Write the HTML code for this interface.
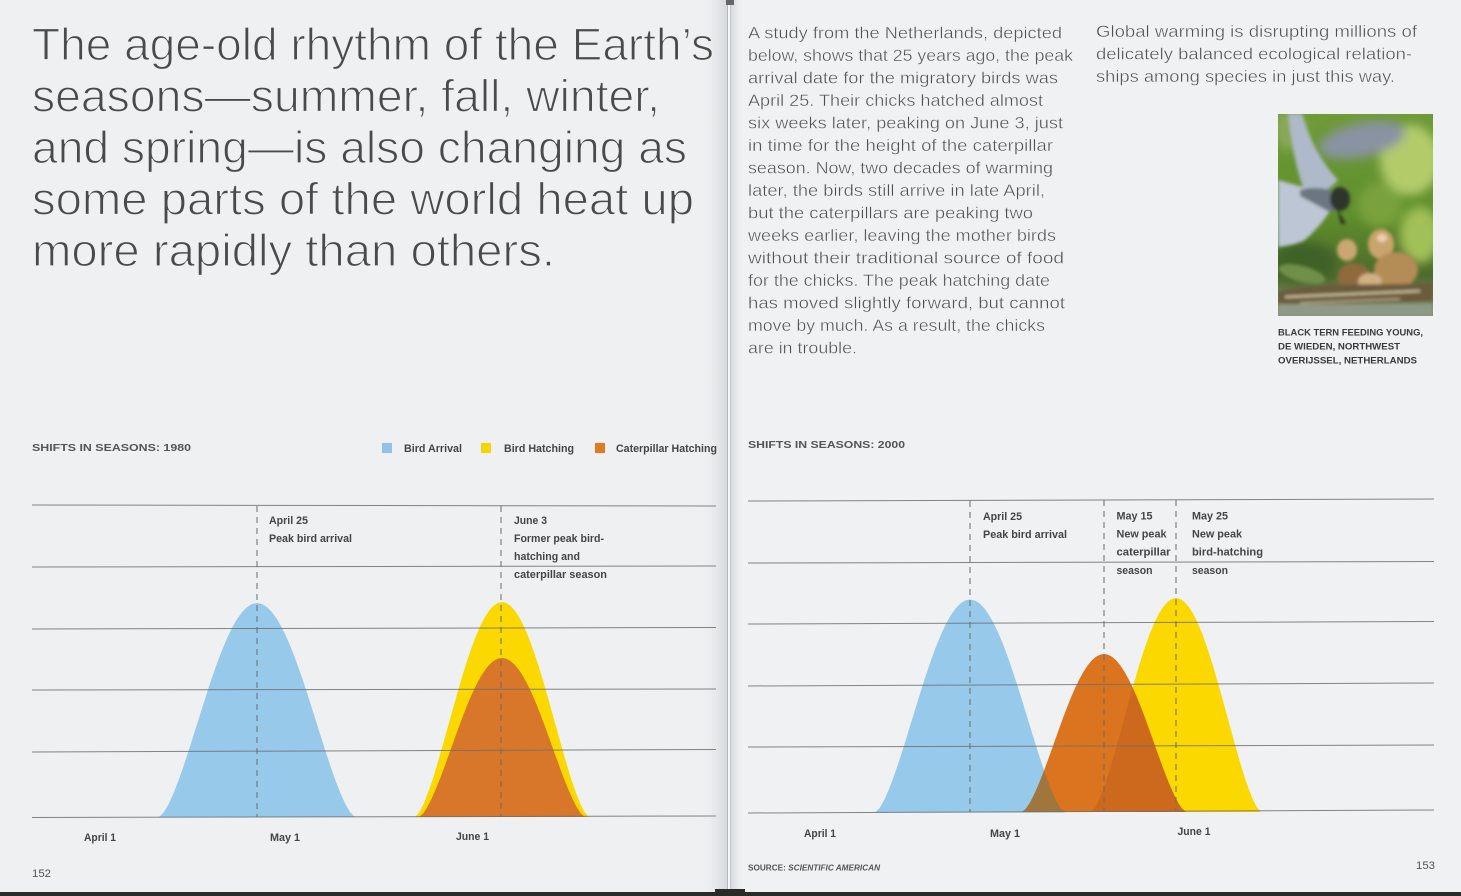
<!DOCTYPE html>
<html>
<head>
<meta charset="utf-8">
<style>
  html,body{margin:0;padding:0;background:#eef0f1;}
  body{width:1461px;height:896px;overflow:hidden;}
  svg{display:block;}
  .hl{font-family:"Liberation Sans",sans-serif;font-size:45px;fill:#4a4a4a;stroke:#eef0f1;stroke-width:1.2px;}
  .p{font-family:"Liberation Sans",sans-serif;font-size:17px;fill:#4f4f4f;stroke:#eff1f2;stroke-width:0.4px;}
  .lab{font-family:"Liberation Sans Narrow","Liberation Sans",sans-serif;font-weight:bold;font-size:11px;fill:#454545;}
  .hd{font-family:"Liberation Sans",sans-serif;font-weight:bold;font-size:10.5px;fill:#555;}
  .cap{font-family:"Liberation Sans",sans-serif;font-weight:bold;font-size:9px;fill:#3a3a3a;}
  .pg{font-family:"Liberation Sans Narrow","Liberation Sans",sans-serif;font-size:11px;fill:#555;}
</style>
</head>
<body>
<svg width="1461" height="896" viewBox="0 0 1461 896" xmlns="http://www.w3.org/2000/svg">
  <defs>
    <linearGradient id="gL" x1="0" x2="1" y1="0" y2="0">
      <stop offset="0" stop-color="#eef0f1" stop-opacity="0"/>
      <stop offset="1" stop-color="#d3d8da"/>
    </linearGradient>
    <linearGradient id="gR" x1="0" x2="1" y1="0" y2="0">
      <stop offset="0" stop-color="#d6dadc"/>
      <stop offset="1" stop-color="#eff1f2" stop-opacity="0"/>
    </linearGradient>
    <linearGradient id="phBase" x1="0" x2="0" y1="0" y2="1">
      <stop offset="0" stop-color="#6f9a38"/>
      <stop offset="0.5" stop-color="#5f8f2c"/>
      <stop offset="0.8" stop-color="#4e6a2c"/>
      <stop offset="1" stop-color="#8a8f70"/>
    </linearGradient>
    <filter id="blur3" x="-30%" y="-30%" width="160%" height="160%"><feGaussianBlur stdDeviation="5"/></filter>
    <filter id="blur1" x="-20%" y="-20%" width="140%" height="140%"><feGaussianBlur stdDeviation="1.6"/></filter>
    <clipPath id="phClip"><rect x="1278" y="114" width="155" height="202"/></clipPath>
    <clipPath id="orClip">
      <path transform="translate(1104,812) scale(82,-158)" d="M-1,0 L-0.95,0.022 -0.9,0.0619 -0.85,0.1128 -0.8,0.1718 -0.75,0.2367 -0.7,0.3059 -0.65,0.3777 -0.6,0.4506 -0.55,0.5234 -0.5,0.5946 -0.45,0.6631 -0.4,0.7277 -0.35,0.7873 -0.3,0.841 -0.25,0.888 -0.2,0.9275 -0.15,0.9588 -0.1,0.9816 -0.05,0.9954 0,1 0.05,0.9954 0.1,0.9816 0.15,0.9588 0.2,0.9275 0.25,0.888 0.3,0.841 0.35,0.7873 0.4,0.7277 0.45,0.6631 0.5,0.5946 0.55,0.5234 0.6,0.4506 0.65,0.3777 0.7,0.3059 0.75,0.2367 0.8,0.1718 0.85,0.1128 0.9,0.0619 0.95,0.022 1,0 Z"/>
    </clipPath>
  </defs>

  <!-- page backgrounds -->
  <rect x="0" y="0" width="729" height="896" fill="#eef0f1"/>
  <rect x="729" y="0" width="732" height="896" fill="#eff1f2"/>
  <!-- gutter -->
  <rect x="700" y="0" width="28" height="896" fill="url(#gL)"/>
  <rect x="727" y="0" width="1" height="896" fill="#b4b9bb"/>
  <rect x="728" y="0" width="2" height="896" fill="#f6f7f7"/>
  <rect x="730" y="0" width="1.2" height="896" fill="#c2c6c8"/>
  <rect x="731" y="0" width="14" height="896" fill="url(#gR)"/>
  <rect x="726" y="0" width="8" height="5" fill="#666"/>
  <!-- bottom dark edge -->
  <rect x="0" y="892" width="1461" height="4" fill="#2a2a28"/>
  <rect x="715" y="889" width="30" height="7" fill="#2a2a28"/>

  <!-- HEADLINE -->
  <g class="hl">
  <text x="32" y="60" textLength="682" lengthAdjust="spacingAndGlyphs">The age-old rhythm of the Earth’s</text>
  <text x="32" y="111.5" textLength="628" lengthAdjust="spacingAndGlyphs">seasons—summer, fall, winter,</text>
  <text x="32" y="163" textLength="655" lengthAdjust="spacingAndGlyphs">and spring—is also changing as</text>
  <text x="32" y="214.5" textLength="662" lengthAdjust="spacingAndGlyphs">some parts of the world heat up</text>
  <text x="32" y="266" textLength="523" lengthAdjust="spacingAndGlyphs">more rapidly than others.</text>
  </g>

  <!-- PARAGRAPH 1 -->
  <g class="p">
    <text x="748" y="38.5" textLength="314" lengthAdjust="spacingAndGlyphs">A study from the Netherlands, depicted</text>
    <text x="748" y="61" textLength="325" lengthAdjust="spacingAndGlyphs">below, shows that 25 years ago, the peak</text>
    <text x="748" y="83.5" textLength="310" lengthAdjust="spacingAndGlyphs">arrival date for the migratory birds was</text>
    <text x="748" y="106" textLength="295" lengthAdjust="spacingAndGlyphs">April 25. Their chicks hatched almost</text>
    <text x="748" y="128.5" textLength="315" lengthAdjust="spacingAndGlyphs">six weeks later, peaking on June 3, just</text>
    <text x="748" y="151" textLength="305" lengthAdjust="spacingAndGlyphs">in time for the height of the caterpillar</text>
    <text x="748" y="173.5" textLength="305" lengthAdjust="spacingAndGlyphs">season. Now, two decades of warming</text>
    <text x="748" y="196" textLength="297" lengthAdjust="spacingAndGlyphs">later, the birds still arrive in late April,</text>
    <text x="748" y="218.5" textLength="285" lengthAdjust="spacingAndGlyphs">but the caterpillars are peaking two</text>
    <text x="748" y="241" textLength="308" lengthAdjust="spacingAndGlyphs">weeks earlier, leaving the mother birds</text>
    <text x="748" y="263.5" textLength="316" lengthAdjust="spacingAndGlyphs">without their traditional source of food</text>
    <text x="748" y="286" textLength="302" lengthAdjust="spacingAndGlyphs">for the chicks. The peak hatching date</text>
    <text x="748" y="308.5" textLength="317" lengthAdjust="spacingAndGlyphs">has moved slightly forward, but cannot</text>
    <text x="748" y="331" textLength="297" lengthAdjust="spacingAndGlyphs">move by much. As a result, the chicks</text>
    <text x="748" y="353.5" textLength="109" lengthAdjust="spacingAndGlyphs">are in trouble.</text>
  </g>

  <!-- PARAGRAPH 2 -->
  <g class="p">
    <text x="1096" y="37" textLength="321" lengthAdjust="spacingAndGlyphs">Global warming is disrupting millions of</text>
    <text x="1096" y="59.5" textLength="316" lengthAdjust="spacingAndGlyphs">delicately balanced ecological relation-</text>
    <text x="1096" y="82" textLength="299" lengthAdjust="spacingAndGlyphs">ships among species in just this way.</text>
  </g>

  <!-- PHOTO -->
  <g clip-path="url(#phClip)">
    <rect x="1278" y="114" width="155" height="202" fill="url(#phBase)"/>
    <g filter="url(#blur3)">
      <ellipse cx="1410" cy="160" rx="30" ry="35" fill="#b2cc6a"/>
      <ellipse cx="1420" cy="235" rx="20" ry="28" fill="#a2c058"/>
      <ellipse cx="1380" cy="205" rx="22" ry="22" fill="#79a23c"/>
      <ellipse cx="1305" cy="262" rx="32" ry="20" fill="#3f6226"/>
      <ellipse cx="1362" cy="140" rx="44" ry="17" fill="#8a93a2" transform="rotate(-12 1362 140)"/>
      <ellipse cx="1290" cy="130" rx="16" ry="20" fill="#8aa85a"/>
    </g>
    <g filter="url(#blur1)">
      <path d="M1288,114 L1302,114 C1308,135 1318,158 1338,180 C1330,190 1318,195 1305,192 C1298,175 1292,150 1288,114 Z" fill="#aeb9c9"/>
      <path d="M1278,180 C1295,185 1318,190 1334,200 C1330,215 1318,228 1305,240 C1295,245 1285,246 1278,247 Z" fill="#bcc6d4"/>
      <path d="M1300,190 C1315,186 1330,188 1342,196 C1344,206 1338,212 1330,212 C1318,206 1308,200 1300,196 Z" fill="#6c7680"/>
      <ellipse cx="1340" cy="199" rx="10" ry="12" fill="#2f3529"/>
      <path d="M1337,208 L1346,224 L1341,224 Z" fill="#2a2e24"/>
      <ellipse cx="1381" cy="244" rx="13" ry="15" fill="#c9a46c"/>
      <ellipse cx="1382" cy="238" rx="5" ry="4" fill="#ead2b2"/>
      <ellipse cx="1347" cy="250" rx="10" ry="11" fill="#caa672"/>
      <ellipse cx="1396" cy="270" rx="22" ry="18" fill="#b48c56"/>
      <ellipse cx="1354" cy="278" rx="17" ry="15" fill="#8e6a3e"/>
      <ellipse cx="1370" cy="282" rx="12" ry="9" fill="#d0b084"/>
      <ellipse cx="1302" cy="274" rx="24" ry="8" fill="#6f904a" transform="rotate(15 1302 274)"/>
      <path d="M1278,292 C1310,282 1360,286 1433,283 L1433,301 L1278,306 Z" fill="#6a5c3e"/>
      <path d="M1285,297 L1420,291" stroke="#d8ccaa" stroke-width="2"/>
      <path d="M1300,303 L1400,299" stroke="#c0b494" stroke-width="1.5"/>
      <rect x="1278" y="304" width="155" height="12" fill="#8e9a86"/>
    </g>
  </g>

  <!-- CAPTION -->
  <text class="cap" x="1278" y="335.5" textLength="145" lengthAdjust="spacingAndGlyphs">BLACK TERN FEEDING YOUNG,</text>
  <text class="cap" x="1278" y="349.5" textLength="122" lengthAdjust="spacingAndGlyphs">DE WIEDEN, NORTHWEST</text>
  <text class="cap" x="1278" y="363.5" textLength="139" lengthAdjust="spacingAndGlyphs">OVERIJSSEL, NETHERLANDS</text>

  <!-- ================= LEFT CHART 1980 ================= -->
  <text class="hd" x="32" y="451" textLength="159" lengthAdjust="spacingAndGlyphs">SHIFTS IN SEASONS: 1980</text>
  <rect x="382" y="443" width="10" height="10" fill="#8fc4e8"/>
  <text class="lab" x="404" y="452" textLength="58" lengthAdjust="spacingAndGlyphs">Bird Arrival</text>
  <rect x="481" y="443" width="10" height="10" fill="#f6d500"/>
  <text class="lab" x="504" y="452" textLength="70" lengthAdjust="spacingAndGlyphs">Bird Hatching</text>
  <rect x="595" y="443" width="10" height="10" fill="#e07a24"/>
  <text class="lab" x="616" y="452" textLength="101" lengthAdjust="spacingAndGlyphs">Caterpillar Hatching</text>

  <path transform="translate(257,817) scale(98,-214)" fill="#96c9ea" d="M-1,0 L-0.95,0.022 -0.9,0.0619 -0.85,0.1128 -0.8,0.1718 -0.75,0.2367 -0.7,0.3059 -0.65,0.3777 -0.6,0.4506 -0.55,0.5234 -0.5,0.5946 -0.45,0.6631 -0.4,0.7277 -0.35,0.7873 -0.3,0.841 -0.25,0.888 -0.2,0.9275 -0.15,0.9588 -0.1,0.9816 -0.05,0.9954 0,1 0.05,0.9954 0.1,0.9816 0.15,0.9588 0.2,0.9275 0.25,0.888 0.3,0.841 0.35,0.7873 0.4,0.7277 0.45,0.6631 0.5,0.5946 0.55,0.5234 0.6,0.4506 0.65,0.3777 0.7,0.3059 0.75,0.2367 0.8,0.1718 0.85,0.1128 0.9,0.0619 0.95,0.022 1,0 Z"/>
  <path transform="translate(502,817) scale(87,-215)" fill="#fad800" d="M-1,0 L-0.95,0.022 -0.9,0.0619 -0.85,0.1128 -0.8,0.1718 -0.75,0.2367 -0.7,0.3059 -0.65,0.3777 -0.6,0.4506 -0.55,0.5234 -0.5,0.5946 -0.45,0.6631 -0.4,0.7277 -0.35,0.7873 -0.3,0.841 -0.25,0.888 -0.2,0.9275 -0.15,0.9588 -0.1,0.9816 -0.05,0.9954 0,1 0.05,0.9954 0.1,0.9816 0.15,0.9588 0.2,0.9275 0.25,0.888 0.3,0.841 0.35,0.7873 0.4,0.7277 0.45,0.6631 0.5,0.5946 0.55,0.5234 0.6,0.4506 0.65,0.3777 0.7,0.3059 0.75,0.2367 0.8,0.1718 0.85,0.1128 0.9,0.0619 0.95,0.022 1,0 Z"/>
  <path transform="translate(502,817) scale(83,-159)" fill="#d8762a" d="M-1,0 L-0.95,0.022 -0.9,0.0619 -0.85,0.1128 -0.8,0.1718 -0.75,0.2367 -0.7,0.3059 -0.65,0.3777 -0.6,0.4506 -0.55,0.5234 -0.5,0.5946 -0.45,0.6631 -0.4,0.7277 -0.35,0.7873 -0.3,0.841 -0.25,0.888 -0.2,0.9275 -0.15,0.9588 -0.1,0.9816 -0.05,0.9954 0,1 0.05,0.9954 0.1,0.9816 0.15,0.9588 0.2,0.9275 0.25,0.888 0.3,0.841 0.35,0.7873 0.4,0.7277 0.45,0.6631 0.5,0.5946 0.55,0.5234 0.6,0.4506 0.65,0.3777 0.7,0.3059 0.75,0.2367 0.8,0.1718 0.85,0.1128 0.9,0.0619 0.95,0.022 1,0 Z"/>

  <g stroke="#6e7070" stroke-width="1" stroke-opacity="0.85">
    <line x1="32" y1="505" x2="716" y2="506"/>
    <line x1="32" y1="567" x2="716" y2="566"/>
    <line x1="32" y1="629" x2="716" y2="627.5"/>
    <line x1="32" y1="690" x2="716" y2="689"/>
    <line x1="32" y1="752" x2="716" y2="749.5"/>
    <line x1="32" y1="817.5" x2="716" y2="816"/>
  </g>
  <g stroke="#6a6a6a" stroke-width="1" stroke-dasharray="6,5">
    <line x1="257" y1="506" x2="257" y2="817"/>
    <line x1="501" y1="506" x2="501" y2="817"/>
  </g>
  <text class="lab" x="269" y="524" textLength="39" lengthAdjust="spacingAndGlyphs">April 25</text>
  <text class="lab" x="269" y="542" textLength="83" lengthAdjust="spacingAndGlyphs">Peak bird arrival</text>
  <text class="lab" x="514" y="524" textLength="33" lengthAdjust="spacingAndGlyphs">June 3</text>
  <text class="lab" x="514" y="542" textLength="90" lengthAdjust="spacingAndGlyphs">Former peak bird-</text>
  <text class="lab" x="514" y="560" textLength="66" lengthAdjust="spacingAndGlyphs">hatching and</text>
  <text class="lab" x="514" y="578" textLength="93" lengthAdjust="spacingAndGlyphs">caterpillar season</text>
  <text class="lab" x="84" y="841" textLength="32" lengthAdjust="spacingAndGlyphs">April 1</text>
  <text class="lab" x="270" y="841" textLength="30" lengthAdjust="spacingAndGlyphs">May 1</text>
  <text class="lab" x="456" y="840" textLength="33" lengthAdjust="spacingAndGlyphs">June 1</text>
  <text class="pg" x="32" y="877" textLength="19" lengthAdjust="spacingAndGlyphs">152</text>

  <!-- ================= RIGHT CHART 2000 ================= -->
  <text class="hd" x="748" y="448" textLength="157" lengthAdjust="spacingAndGlyphs">SHIFTS IN SEASONS: 2000</text>

  <path transform="translate(970,812.5) scale(95,-213)" fill="#96c9ea" d="M-1,0 L-0.95,0.022 -0.9,0.0619 -0.85,0.1128 -0.8,0.1718 -0.75,0.2367 -0.7,0.3059 -0.65,0.3777 -0.6,0.4506 -0.55,0.5234 -0.5,0.5946 -0.45,0.6631 -0.4,0.7277 -0.35,0.7873 -0.3,0.841 -0.25,0.888 -0.2,0.9275 -0.15,0.9588 -0.1,0.9816 -0.05,0.9954 0,1 0.05,0.9954 0.1,0.9816 0.15,0.9588 0.2,0.9275 0.25,0.888 0.3,0.841 0.35,0.7873 0.4,0.7277 0.45,0.6631 0.5,0.5946 0.55,0.5234 0.6,0.4506 0.65,0.3777 0.7,0.3059 0.75,0.2367 0.8,0.1718 0.85,0.1128 0.9,0.0619 0.95,0.022 1,0 Z"/>
  <path transform="translate(1176,812) scale(85,-214)" fill="#fad800" d="M-1,0 L-0.95,0.022 -0.9,0.0619 -0.85,0.1128 -0.8,0.1718 -0.75,0.2367 -0.7,0.3059 -0.65,0.3777 -0.6,0.4506 -0.55,0.5234 -0.5,0.5946 -0.45,0.6631 -0.4,0.7277 -0.35,0.7873 -0.3,0.841 -0.25,0.888 -0.2,0.9275 -0.15,0.9588 -0.1,0.9816 -0.05,0.9954 0,1 0.05,0.9954 0.1,0.9816 0.15,0.9588 0.2,0.9275 0.25,0.888 0.3,0.841 0.35,0.7873 0.4,0.7277 0.45,0.6631 0.5,0.5946 0.55,0.5234 0.6,0.4506 0.65,0.3777 0.7,0.3059 0.75,0.2367 0.8,0.1718 0.85,0.1128 0.9,0.0619 0.95,0.022 1,0 Z"/>
  <path transform="translate(1104,812) scale(82,-158)" fill="#da741f" d="M-1,0 L-0.95,0.022 -0.9,0.0619 -0.85,0.1128 -0.8,0.1718 -0.75,0.2367 -0.7,0.3059 -0.65,0.3777 -0.6,0.4506 -0.55,0.5234 -0.5,0.5946 -0.45,0.6631 -0.4,0.7277 -0.35,0.7873 -0.3,0.841 -0.25,0.888 -0.2,0.9275 -0.15,0.9588 -0.1,0.9816 -0.05,0.9954 0,1 0.05,0.9954 0.1,0.9816 0.15,0.9588 0.2,0.9275 0.25,0.888 0.3,0.841 0.35,0.7873 0.4,0.7277 0.45,0.6631 0.5,0.5946 0.55,0.5234 0.6,0.4506 0.65,0.3777 0.7,0.3059 0.75,0.2367 0.8,0.1718 0.85,0.1128 0.9,0.0619 0.95,0.022 1,0 Z"/>
  <g clip-path="url(#orClip)">
    <path transform="translate(1176,812) scale(85,-214)" fill="#cd691c" d="M-1,0 L-0.95,0.022 -0.9,0.0619 -0.85,0.1128 -0.8,0.1718 -0.75,0.2367 -0.7,0.3059 -0.65,0.3777 -0.6,0.4506 -0.55,0.5234 -0.5,0.5946 -0.45,0.6631 -0.4,0.7277 -0.35,0.7873 -0.3,0.841 -0.25,0.888 -0.2,0.9275 -0.15,0.9588 -0.1,0.9816 -0.05,0.9954 0,1 0.05,0.9954 0.1,0.9816 0.15,0.9588 0.2,0.9275 0.25,0.888 0.3,0.841 0.35,0.7873 0.4,0.7277 0.45,0.6631 0.5,0.5946 0.55,0.5234 0.6,0.4506 0.65,0.3777 0.7,0.3059 0.75,0.2367 0.8,0.1718 0.85,0.1128 0.9,0.0619 0.95,0.022 1,0 Z"/>
    <path transform="translate(970,812.5) scale(95,-213)" fill="#a1763c" d="M-1,0 L-0.95,0.022 -0.9,0.0619 -0.85,0.1128 -0.8,0.1718 -0.75,0.2367 -0.7,0.3059 -0.65,0.3777 -0.6,0.4506 -0.55,0.5234 -0.5,0.5946 -0.45,0.6631 -0.4,0.7277 -0.35,0.7873 -0.3,0.841 -0.25,0.888 -0.2,0.9275 -0.15,0.9588 -0.1,0.9816 -0.05,0.9954 0,1 0.05,0.9954 0.1,0.9816 0.15,0.9588 0.2,0.9275 0.25,0.888 0.3,0.841 0.35,0.7873 0.4,0.7277 0.45,0.6631 0.5,0.5946 0.55,0.5234 0.6,0.4506 0.65,0.3777 0.7,0.3059 0.75,0.2367 0.8,0.1718 0.85,0.1128 0.9,0.0619 0.95,0.022 1,0 Z"/>
  </g>

  <g stroke="#6e7070" stroke-width="1" stroke-opacity="0.85">
    <line x1="748" y1="501" x2="1434" y2="499"/>
    <line x1="748" y1="563" x2="1434" y2="561.5"/>
    <line x1="748" y1="624" x2="1434" y2="621.5"/>
    <line x1="748" y1="686" x2="1434" y2="683"/>
    <line x1="748" y1="747" x2="1434" y2="745"/>
    <line x1="748" y1="813" x2="1434" y2="810"/>
  </g>
  <g stroke="#6a6a6a" stroke-width="1" stroke-dasharray="6,5">
    <line x1="970" y1="501" x2="970" y2="812"/>
    <line x1="1104" y1="500" x2="1104" y2="811"/>
    <line x1="1176" y1="500" x2="1176" y2="811"/>
  </g>
  <text class="lab" x="983" y="520" textLength="39" lengthAdjust="spacingAndGlyphs">April 25</text>
  <text class="lab" x="983" y="538" textLength="84" lengthAdjust="spacingAndGlyphs">Peak bird arrival</text>
  <text class="lab" x="1116.5" y="519.5" textLength="36" lengthAdjust="spacingAndGlyphs">May 15</text>
  <text class="lab" x="1116.5" y="537.5" textLength="50" lengthAdjust="spacingAndGlyphs">New peak</text>
  <text class="lab" x="1116.5" y="555.5" textLength="54" lengthAdjust="spacingAndGlyphs">caterpillar</text>
  <text class="lab" x="1116.5" y="574" textLength="36" lengthAdjust="spacingAndGlyphs">season</text>
  <text class="lab" x="1192" y="519.5" textLength="36" lengthAdjust="spacingAndGlyphs">May 25</text>
  <text class="lab" x="1192" y="537.5" textLength="50" lengthAdjust="spacingAndGlyphs">New peak</text>
  <text class="lab" x="1192" y="555.5" textLength="71" lengthAdjust="spacingAndGlyphs">bird-hatching</text>
  <text class="lab" x="1192" y="574" textLength="36" lengthAdjust="spacingAndGlyphs">season</text>

  <text class="lab" x="804" y="837" textLength="32" lengthAdjust="spacingAndGlyphs">April 1</text>
  <text class="lab" x="990" y="837" textLength="30" lengthAdjust="spacingAndGlyphs">May 1</text>
  <text class="lab" x="1177.5" y="835" textLength="33" lengthAdjust="spacingAndGlyphs">June 1</text>

  <text x="748" y="870.5" font-family="Liberation Sans, sans-serif" font-weight="bold" font-size="8px" fill="#555" textLength="132" lengthAdjust="spacingAndGlyphs">SOURCE: <tspan font-style="italic">SCIENTIFIC AMERICAN</tspan></text>
  <text class="pg" x="1416" y="869" textLength="19" lengthAdjust="spacingAndGlyphs">153</text>
</svg>
</body>
</html>
